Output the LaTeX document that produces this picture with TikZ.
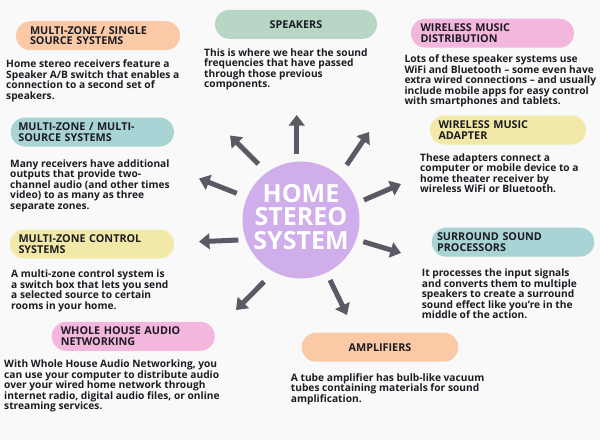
\documentclass[tikz,border=0pt]{standalone}
\usepackage{fontspec}
\setmainfont{Open Sans}
\usetikzlibrary{arrows.meta}
\definecolor{bg}{HTML}{F9F9FA}
\definecolor{ink}{HTML}{1C1C22}
\definecolor{peach}{HTML}{FCC9A6}
\definecolor{sage}{HTML}{B7D6C6}
\definecolor{pinkc}{HTML}{F3B6DD}
\definecolor{teal}{HTML}{A9D4D5}
\definecolor{yell}{HTML}{F2E9A8}
\definecolor{lav}{HTML}{CFAEEB}
\definecolor{arr}{HTML}{5A5A65}
\newcommand{\headfont}{\fontsize{10.8}{10.6}\selectfont\bfseries\lineskiplimit=-8pt\relax}
\newcommand{\bodyfont}{\fontsize{10.2}{10.5}\selectfont\bfseries\lineskiplimit=-8pt\relax}
\newcommand{\hubfont}{\fontsize{25}{23.5}\selectfont\bfseries\lineskiplimit=-8pt\relax}
\begin{document}
\begin{tikzpicture}[x=1pt,y=-1pt,
  pill/.style={rounded corners=14.5pt, minimum height=29pt, inner ysep=0pt,
    font=\headfont, align=left, text=ink},
  body/.style={anchor=north west, inner sep=0pt, yshift=-1.5pt, font=\bodyfont, align=left, text=ink},
  spoke/.style={draw=arr, line width=5pt, -{Triangle[length=10.5pt,width=15.5pt]}}]
\fill[bg] (0,0) rectangle (600,440);
\useasboundingbox (0,0) rectangle (600,440);

% hub
\node[circle, fill=lav, minimum size=117pt, inner sep=0pt] (hub) at (301,220) {};
\node[text=white, align=center, font=\hubfont, inner sep=0pt] (hubtext)
  at ([yshift=3pt]hub.center) {HOME\\STEREO\\SYSTEM};

% headings
\node[pill, fill=peach, text width=136pt, inner xsep=14pt] (h1) at (98,35.7)
  {MULTI-ZONE / SINGLE\\SOURCE SYSTEMS};
\node[pill, fill=sage, minimum width=162pt, align=center] (h2) at (296,24.3) {SPEAKERS};
\node[pill, fill=pinkc, text width=144pt, inner xsep=9.5pt] (h3) at (492.5,33.2)
  {WIRELESS MUSIC\\DISTRIBUTION};
\node[pill, fill=teal, text width=148pt, inner xsep=7.6pt] (h4) at (92.3,132)
  {MULTI-ZONE / MULTI-\\SOURCE SYSTEMS};
\node[pill, fill=yell, text width=139pt, inner xsep=8.5pt] (h5) at (508,130)
  {WIRELESS MUSIC\\ADAPTER};
\node[pill, fill=yell, text width=147pt, inner xsep=8.5pt] (h6) at (92,244)
  {MULTI-ZONE CONTROL\\SYSTEMS};
\node[pill, fill=teal, text width=152pt, inner xsep=5.3pt] (h7) at (513,242.2)
  {SURROUND SOUND\\PROCESSORS};
\node[pill, fill=pinkc, text width=145pt, inner xsep=9pt] (h8) at (133.3,336.3)
  {WHOLE HOUSE AUDIO\\NETWORKING};
\node[pill, fill=peach, minimum width=156.6pt, align=center] (h9) at (380,347.2) {AMPLIFIERS};

% bodies
\node[body] (b1) at (6,58.3) {Home stereo receivers feature a\\Speaker A/B switch that enables a\\connection to a second set of\\speakers.};
\node[body] (b2) at (204,46.7) {This is where we hear the sound\\frequencies that have passed\\through those previous\\components.};
\node[body] (b3) at (404.3,53.3) {Lots of these speaker systems use\\WiFi and Bluetooth -- some even have\\extra wired connections -- and usually\\include mobile apps for easy control\\with smartphones and tablets.};
\node[body] (b4) at (10,157.7) {Many receivers have additional\\outputs that provide two-\\channel audio (and other times\\video) to as many as three\\separate zones.};
\node[body] (b5) at (420,151.7) {These adapters connect a\\computer or mobile device to a\\home theater receiver by\\wireless WiFi or Bluetooth.};
\node[body] (b6) at (11,268.3) {A multi-zone control system is\\a switch box that lets you send\\a selected source to certain\\rooms in your home.};
\node[body] (b7) at (421.7,267.3) {It processes the input signals\\and converts them to multiple\\speakers to create a surround\\sound effect like you're in the\\middle of the action.};
\node[body] (b8) at (4,358.3) {With Whole House Audio Networking, you\\can use your computer to distribute audio\\over your wired home network through\\internet radio, digital audio files, or online\\streaming services.};
\node[body] (b9) at (290.7,371.7) {A tube amplifier has bulb-like vacuum\\tubes containing materials for sound\\amplification.};

% spokes
\coordinate (t1) at (296.7,154); \coordinate (e1) at (296.7,115);
\coordinate (t2) at (258.3,164); \coordinate (e2) at (230,135.5);
\coordinate (t3) at (346.7,165); \coordinate (e3) at (369,132);
\coordinate (t4) at (236.7,193.3); \coordinate (e4) at (199,178.5);
\coordinate (t5) at (364,200); \coordinate (e5) at (401,184);
\coordinate (t6) at (238.3,240); \coordinate (e6) at (199,241.7);
\coordinate (t7) at (363.3,241.7); \coordinate (e7) at (401,253);
\coordinate (t8) at (264,281.7); \coordinate (e8) at (236,310);
\coordinate (t9) at (330,280); \coordinate (e9) at (347,315);
\foreach \i in {1,...,9} \draw[spoke] (t\i) -- (e\i);
\end{tikzpicture}
\end{document}
